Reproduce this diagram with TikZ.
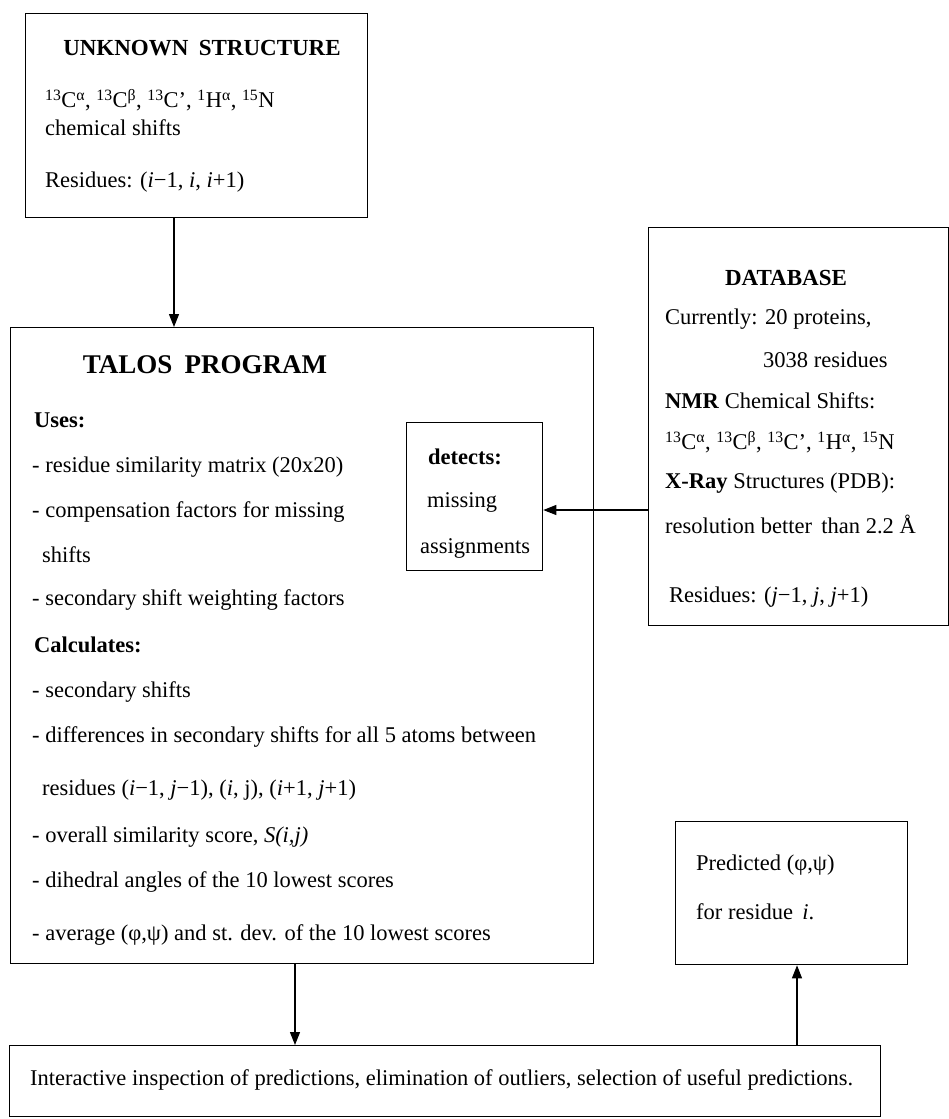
\documentclass[tikz,border=0pt]{standalone}
\usepackage{fontspec}
\setmainfont{Liberation Serif}
\usetikzlibrary{arrows.meta}
\newcommand\sps[1]{\textsuperscript{#1}}
\begin{document}
\begin{tikzpicture}[x=1pt,y=-1pt,
  box/.style={draw, line width=1.3pt, anchor=north west, inner sep=0pt},
  txt/.style={anchor=west, inner sep=0pt, font=\fontsize{22.5}{27}\selectfont},
  hdr/.style={anchor=center, inner sep=0pt, font=\fontsize{23}{27}\selectfont\bfseries},
  sub/.style={anchor=west, inner sep=0pt, font=\fontsize{22.5}{27}\selectfont\bfseries},
  arr/.style={line width=1.1pt, -{Triangle[length=13pt,width=10pt]}},
]
\path[use as bounding box] (0,0) rectangle (949,1119);

% boxes
\node[box, minimum width=342pt, minimum height=204pt] (unknown) at (25,13) {};
\node[box, minimum width=583pt, minimum height=636pt] (talos) at (10,327) {};
\node[box, minimum width=136pt, minimum height=148pt] (detects) at (406,422) {};
\node[box, minimum width=300pt, minimum height=398pt] (database) at (648,227) {};
\node[box, minimum width=232pt, minimum height=143pt] (predicted) at (675,821) {};
\node[box, minimum width=871pt, minimum height=71pt] (final) at (9,1045) {};

% unknown structure
\node[hdr] (u0) at (202,48) {UNKNOWN\hspace{0.2em} STRUCTURE};
\node[txt] (u1) at (45,100) {\sps{13}C\sps{α}, \sps{13}C\sps{β}, \sps{13}C’, \sps{1}H\sps{α}, \sps{15}N};
\node[txt] (u2) at (45,128) {chemical shifts};
\node[txt] (u3) at (45,182) {Residues: (\textit{i}−1, \textit{i}, \textit{i}+1)};

% talos program
\node[hdr, font=\fontsize{27}{31}\selectfont\bfseries] (t0) at (205,365) {TALOS\hspace{0.2em} PROGRAM};
\node[sub] (t1) at (34,420) {Uses:};
\node[txt] (t2) at (32,467) {- residue similarity matrix (20x20)};
\node[txt] (t3) at (32,512) {- compensation factors for missing};
\node[txt] (t4) at (42,555) {shifts};
\node[txt] (t5) at (32,600) {- secondary shift weighting factors};
\node[sub] (t6) at (34,645) {Calculates:};
\node[txt] (t7) at (32,692) {- secondary shifts};
\node[txt] (t8) at (32,737) {- differences in secondary shifts for all 5 atoms between};
\node[txt] (t9) at (42,790) {residues (\textit{i}−1, \textit{j}−1), (\textit{i}, j), (\textit{i}+1, \textit{j}+1)};
\node[txt] (t10) at (32,837) {- overall similarity score, \textit{S(i,j)}};
\node[txt] (t11) at (32,882) {- dihedral angles of the 10 lowest scores};
\node[txt] (t12) at (32,935) {- average (φ,ψ) and st. dev. of the 10 lowest scores};

% detects
\node[sub] (d1) at (428,457) {detects:};
\node[txt] (d2) at (427,502) {missing};
\node[txt] (d3) at (420,548) {assignments};

% database
\node[hdr] (b0) at (786,278) {DATABASE};
\node[txt] (b1) at (665,319) {Currently: 20 proteins,};
\node[txt] (b2) at (763,360) {3038 residues};
\node[txt] (b3) at (665,401) {\textbf{NMR} Chemical Shifts:};
\node[txt] (b4) at (665,442) {\sps{13}C\sps{α}, \sps{13}C\sps{β}, \sps{13}C’, \sps{1}H\sps{α}, \sps{15}N};
\node[txt] (b5) at (665,483) {\textbf{X-Ray} Structures (PDB):};
\node[txt] (b6) at (665,524) {resolution better\, than 2.2 Å};
\node[txt] (b7) at (669,597) {Residues: (\textit{j}−1, \textit{j}, \textit{j}+1)};

% predicted
\node[txt] (p1) at (696,865) {Predicted (φ,ψ)};
\node[txt] (p2) at (696,912) {for residue\, \textit{i}.};

% final
\node[txt] (f1) at (30,1080) {Interactive inspection of predictions, elimination of outliers, selection of useful predictions.};

% connectors
\coordinate (xa) at (174,0);
\coordinate (ya) at (0,510);
\coordinate (xb) at (295,0);
\coordinate (xc) at (797,0);
\draw[arr] (unknown.south -| xa) -- (talos.north -| xa);
\draw[arr] (database.west |- ya) -- (detects.east |- ya);
\draw[arr] (talos.south -| xb) -- (final.north -| xb);
\draw[arr] (final.north -| xc) -- (predicted.south -| xc);
\end{tikzpicture}
\end{document}
